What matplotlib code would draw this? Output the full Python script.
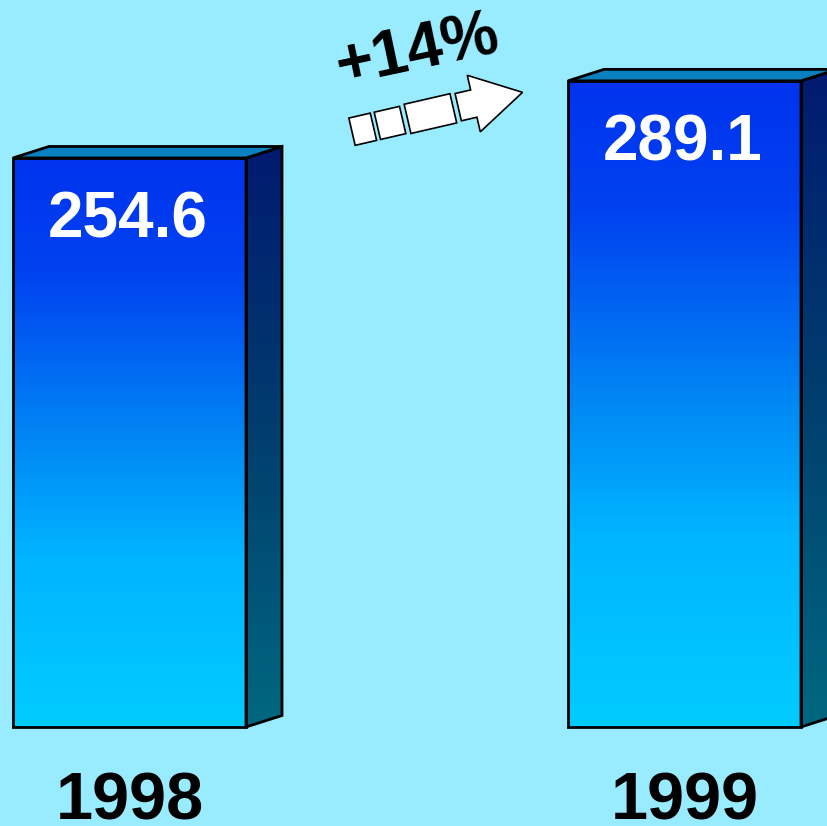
import matplotlib
matplotlib.use('Agg')
import numpy as np
import matplotlib.pyplot as plt
from matplotlib.colors import LinearSegmentedColormap
from matplotlib.patches import Polygon
from matplotlib.transforms import Affine2D

# data
years = ['1998', '1999']
values = [254.6, 289.1]
change_label = '+14%'

BG = '#99ECFF'
W, H = 828, 826

front_cmap = LinearSegmentedColormap.from_list(
    'front', [(0.0, '#0033EE'), (0.2, '#0042F0'), (0.5, '#0088F4'),
              (0.7, '#00B4FF'), (1.0, '#00CCFF')])
side_cmap = LinearSegmentedColormap.from_list(
    'side', [(0.0, '#001A70'), (0.5, '#003E6E'), (1.0, '#006880')])

fig = plt.figure(figsize=(W / 100, H / 100), dpi=100)
fig.patch.set_facecolor(BG)
ax = fig.add_axes([0, 0, 1, 1])
ax.set_facecolor(BG)

# scale: pixels per data unit, baseline at pixel row 727
py = 2.235
px = 555.0
xlim = (-129.5 / px, (W - 129.5) / px)
ylim = (-(H - 727) / py, 727 / py)

bar_w = 233 / px
dx = 36 / px
dy = 11.5 / py
LW = 2.0

grad = np.linspace(0, 1, 256).reshape(-1, 1)

for i, (yr, v) in enumerate(zip(years, values)):
    x0, x1 = i - bar_w / 2, i + bar_w / 2
    # front face
    ax.imshow(grad, cmap=front_cmap, extent=[x0, x1, 0, v], aspect='auto',
              origin='upper', zorder=2, interpolation='bicubic')
    ax.add_patch(plt.Rectangle((x0, 0), bar_w, v, fill=False, ec='black',
                               lw=LW, zorder=4))
    # side face
    side = Polygon([(x1, 0), (x1 + dx, dy), (x1 + dx, v + dy), (x1, v)],
                   closed=True, fc='none', ec='black', lw=LW, zorder=4)
    ax.add_patch(side)
    im = ax.imshow(grad, cmap=side_cmap, extent=[x1, x1 + dx, 0, v + dy],
                   aspect='auto', origin='upper', zorder=2)
    im.set_clip_path(side)
    # top face
    ax.add_patch(Polygon([(x0, v), (x0 + dx, v + dy), (x1 + dx, v + dy), (x1, v)],
                         closed=True, fc='#0A80C0', ec='black', lw=LW, zorder=4))
    # labels
    ax.text(i - 0.003, v - 80 / py, f'{v:.1f}', ha='center', va='baseline',
            color='white', fontsize=46, fontweight='bold',
            family='Liberation Sans', zorder=5)
    ax.text(i, -93 / py, yr, ha='center', va='baseline', color='black',
            fontsize=48, fontweight='bold', family='Liberation Sans', zorder=5)

ax.set_xlim(*xlim)
ax.set_ylim(*ylim)
ax.axis('off')

# growth arrow, drawn in figure pixels (y up)
pix = Affine2D().scale(1 / W, 1 / H) + fig.transFigure
rot = Affine2D().rotate_deg(13).translate(352, H - 131.7) + pix
boxes = [(0, 22, 14), (26, 52, 14), (57, 104, 15)]
for a, b, h in boxes:
    fig.patches.append(Polygon([(a, -h), (b, -h), (b, h), (a, h)], closed=True,
                               fc='white', ec='black', lw=1.2, transform=rot))
head = [(109, -14), (125, -14), (125, -29), (175, 0), (125, 29), (125, 14), (109, 14)]
fig.patches.append(Polygon(head, closed=True, fc='white', ec='black', lw=1.2,
                           transform=rot))

fig.text(421 / W, (H - 68) / H, change_label, ha='center', va='baseline',
         rotation=12, rotation_mode='anchor', fontsize=46, fontweight='bold',
         family='Liberation Sans', color='black')

fig.savefig('out.png', dpi=100, facecolor=BG)
